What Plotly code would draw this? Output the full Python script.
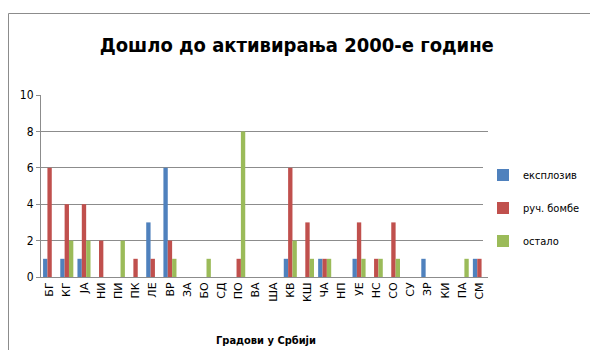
import plotly.graph_objects as go

cities = ["БГ", "КГ", "ЈА", "НИ", "ПИ", "ПК", "ЛЕ", "ВР", "ЗА", "БО", "СД", "ПО", "ВА",
          "ША", "КВ", "КШ", "ЧА", "НП", "УЕ", "НС", "СО", "СУ", "ЗР", "КИ", "ПА", "СМ"]
eksploziv = [1, 1, 1, 0, 0, 0, 3, 6, 0, 0, 0, 0, 0, 0, 1, 0, 1, 0, 1, 0, 0, 0, 1, 0, 0, 1]
ruc_bombe = [6, 4, 4, 2, 0, 1, 1, 2, 0, 0, 0, 1, 0, 0, 6, 3, 1, 0, 3, 1, 3, 0, 0, 0, 0, 1]
ostalo = [0, 2, 2, 0, 2, 0, 0, 1, 0, 1, 0, 8, 0, 0, 2, 1, 1, 0, 1, 1, 1, 0, 0, 0, 1, 0]
series_names = ["експлозив", "руч. бомбе", "остало"]
colors = ["#4F81BD", "#C0504D", "#9BBB59"]
y_ticks = [0, 2, 4, 6, 8, 10]

FONT = "DejaVu Sans Condensed"
W, H = 590, 350

# plot area in pixels
L, R, T, B = 41, 488, 95, 277
PW, PH = R - L, B - T


def px_x(x):
    return (x - L) / PW


def px_y(y):
    return (B - y) / PH


fig = go.Figure()
for name, vals, col in zip(series_names, [eksploziv, ruc_bombe, ostalo], colors):
    fig.add_trace(go.Bar(x=cities, y=vals, name=name, marker_color=col,
                         marker_line_width=0, legendgroup=name))

fig.update_layout(
    width=W, height=H,
    margin=dict(l=L, r=W - R, t=T, b=H - B, autoexpand=False),
    paper_bgcolor="white", plot_bgcolor="white",
    barmode="group", bargap=0.24, bargroupgap=0,
    font=dict(family=FONT, color="black", size=11),
    title=dict(text="<b>Дошло до активирања 2000-е године</b>",
               font=dict(family=FONT, size=20, color="black"),
               x=0.503, xref="container", xanchor="center",
               y=1 - 45 / H, yref="container", yanchor="middle"),
    legend=dict(x=483 / W, y=1 - 208 / H, xref="container", yref="container",
                xanchor="left", yanchor="middle",
                traceorder="grouped", tracegroupgap=14,
                font=dict(family=FONT, size=11, color="black"),
                itemwidth=30),
    showlegend=True,
)

fig.update_xaxes(
    type="category", tickangle=-90, showgrid=False, zeroline=False,
    showline=True, linecolor="#8c8c8c", linewidth=1,
    ticks="", tickfont=dict(family="DejaVu Sans", size=11, color="black"),
)
fig.update_yaxes(
    range=[0, 10], tickvals=y_ticks, showgrid=True, gridcolor="#8c8c8c", gridwidth=1,
    zeroline=False, showline=True, linecolor="#8c8c8c", linewidth=1,
    ticks="outside", ticklen=4, tickcolor="#8c8c8c",
    tickfont=dict(family=FONT, size=12, color="black"),
)

fig.add_annotation(text="<b>Градови у Србији</b>", xref="paper", yref="paper",
                   x=px_x(266), y=px_y(340), showarrow=False,
                   xanchor="center", yanchor="middle",
                   font=dict(family=FONT, size=11, color="black"))

# outer chart frame; right and bottom edges fall outside the canvas
fig.add_shape(type="rect", xref="paper", yref="paper",
              x0=px_x(8.5), x1=px_x(620), y0=px_y(380), y1=px_y(13.5),
              line=dict(color="#8c8c8c", width=1), fillcolor="rgba(0,0,0,0)",
              layer="above")

fig.write_html("out.html")
